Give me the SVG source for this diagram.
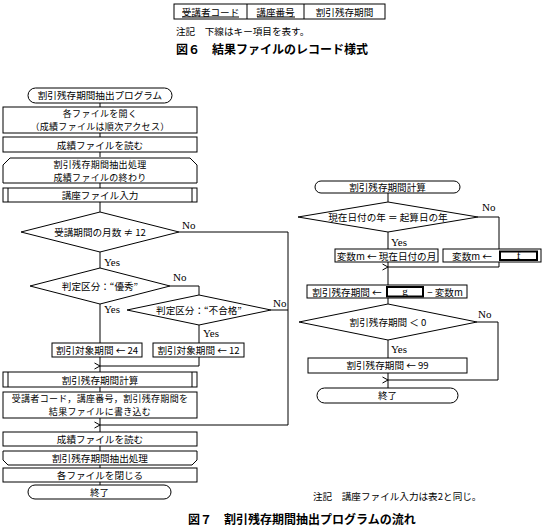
<svg xmlns="http://www.w3.org/2000/svg" width="552" height="527" viewBox="0 0 552 527">
<defs>
<style>
.s{fill:none;stroke:#000;stroke-width:1}
.b{fill:#fff;stroke:#000;stroke-width:1}
.k{fill:#fff;stroke:#000;stroke-width:2}
.t{font-family:"Noto Sans CJK JP","Noto Sans",sans-serif;font-size:9.6px;fill:#000;text-anchor:middle}
.t2{font-family:"Noto Sans CJK JP","Noto Sans",sans-serif;font-size:9px;fill:#000;text-anchor:middle;letter-spacing:0.3px}
.y{font-family:"Liberation Serif",serif;font-size:11px;fill:#000}
.h{font-family:"Noto Sans CJK JP","Noto Sans",sans-serif;font-size:12px;font-weight:bold;fill:#000}
</style>
<marker id="ah" markerWidth="8" markerHeight="8" refX="0.5" refY="4" orient="auto" markerUnits="userSpaceOnUse">
<polyline points="6,1 0.5,4 6,7" fill="none" stroke="#000" stroke-width="1"/>
</marker>
</defs>
<rect width="552" height="527" fill="#fff"/>

<g id="fig6">
<rect class="b" x="174" y="4" width="211" height="15"/>
<line class="s" x1="247" y1="4" x2="247" y2="19"/>
<line class="s" x1="304" y1="4" x2="304" y2="19"/>
<text class="t" x="210.5" y="15.5">受講者コード</text>
<line class="s" x1="182" y1="17" x2="239" y2="17"/>
<text class="t" x="275.5" y="15.5">講座番号</text>
<line class="s" x1="257" y1="17" x2="295" y2="17"/>
<text class="t" x="344.5" y="15.5">割引残存期間</text>
<text class="t" x="176" y="35" style="text-anchor:start">注記　下線はキー項目を表す。</text>
<text class="h" x="176" y="54">図６　結果ファイルのレコード様式</text>
</g>

<g id="connectors">
<line class="s" x1="100" y1="103" x2="100" y2="107"/>
<line class="s" x1="100" y1="133" x2="100" y2="137"/>
<line class="s" x1="100" y1="152" x2="100" y2="157"/>
<line class="s" x1="100" y1="183" x2="100" y2="188"/>
<line class="s" x1="100" y1="202" x2="100" y2="212"/>
<line class="s" x1="100" y1="252" x2="100" y2="268"/>
<line class="s" x1="100" y1="304" x2="100" y2="343"/>
<polyline class="s" points="170,286 199,286 199,295"/>
<line class="s" x1="199" y1="325" x2="199" y2="343"/>
<polyline class="s" points="179,232 288,232 288,425 100,425" marker-end="url(#ah)"/>
<line class="s" x1="271" y1="310" x2="288" y2="310"/>
<polyline class="s" points="199,357 199,366 100,366" marker-end="url(#ah)"/>
<line class="s" x1="100" y1="357" x2="100" y2="372"/>
<line class="s" x1="100" y1="387" x2="100" y2="392"/>
<line class="s" x1="100" y1="418" x2="100" y2="432"/>
<line class="s" x1="100" y1="446" x2="100" y2="451"/>
<line class="s" x1="100" y1="465" x2="100" y2="468"/>
<line class="s" x1="100" y1="482" x2="100" y2="485"/>
<text class="y" x="182" y="229">No</text>
<text class="y" x="104" y="266">Yes</text>
<text class="y" x="173" y="281">No</text>
<text class="y" x="104" y="313">Yes</text>
<text class="y" x="273" y="307">No</text>
<text class="y" x="203" y="337">Yes</text>

<line class="s" x1="388" y1="193" x2="388" y2="202"/>
<line class="s" x1="388" y1="232" x2="388" y2="249"/>
<polyline class="s" points="478,217 499,217 499,249"/>
<polyline class="s" points="499,262 499,267 388,267" marker-end="url(#ah)"/>
<line class="s" x1="388" y1="262" x2="388" y2="285"/>
<line class="s" x1="388" y1="298" x2="388" y2="304"/>
<line class="s" x1="388" y1="340" x2="388" y2="358"/>
<polyline class="s" points="477,322 498,322 498,380 388,380" marker-end="url(#ah)"/>
<line class="s" x1="388" y1="373" x2="388" y2="388"/>
<text class="y" x="482" y="211">No</text>
<text class="y" x="391" y="246">Yes</text>
<text class="y" x="478" y="318">No</text>
<text class="y" x="391" y="353">Yes</text>
</g>

<g id="n_start">
<rect class="b" x="28" y="88" width="144" height="15" rx="7.5"/>
<text class="t" x="100" y="99">割引残存期間抽出プログラム</text>
</g>
<g id="n_open">
<rect class="b" x="3" y="107" width="194" height="26"/>
<text class="t2" x="100" y="117">各ファイルを開く</text>
<text class="t2" x="100" y="130">（成績ファイルは順次アクセス）</text>
</g>
<g id="n_read1">
<rect class="b" x="3" y="137" width="194" height="15"/>
<text class="t" x="100" y="148.5">成績ファイルを読む</text>
</g>
<g id="n_loopstart">
<path class="b" d="M3,183 V165 L10,158 H190 L197,165 V183 Z"/>
<text class="t2" x="100" y="168">割引残存期間抽出処理</text>
<text class="t2" x="100" y="181">成績ファイルの終わり</text>
</g>
<g id="n_course">
<rect class="b" x="3" y="188" width="194" height="14"/>
<line class="s" x1="8" y1="188" x2="8" y2="202"/>
<line class="s" x1="192" y1="188" x2="192" y2="202"/>
<text class="t" x="100" y="199">講座ファイル入力</text>
</g>
<g id="n_d1">
<polygon class="b" points="100,212 179,232 100,252 21,232"/>
<text class="t" x="100" y="235.5">受講期間の月数 ≠ 12</text>
</g>
<g id="n_d2">
<polygon class="b" points="100,268 170,286 100,304 30,286"/>
<text class="t" x="100" y="289.5">判定区分：“優秀”</text>
</g>
<g id="n_d3">
<polygon class="b" points="199,295 271,310 199,325 127,310"/>
<text class="t" x="199" y="313.5">判定区分：“不合格”</text>
</g>
<g id="n_24">
<rect class="b" x="52" y="343" width="90" height="14"/>
<text class="t" x="97" y="354">割引対象期間 ← 24</text>
</g>
<g id="n_12">
<rect class="b" x="153" y="343" width="91" height="14"/>
<text class="t" x="198.5" y="354">割引対象期間 ← 12</text>
</g>
<g id="n_calc">
<rect class="b" x="3" y="372" width="194" height="15"/>
<line class="s" x1="8" y1="372" x2="8" y2="387"/>
<line class="s" x1="192" y1="372" x2="192" y2="387"/>
<text class="t" x="100" y="383.5">割引残存期間計算</text>
</g>
<g id="n_write">
<rect class="b" x="3" y="392" width="194" height="26"/>
<text class="t2" x="100" y="402">受講者コード，講座番号，割引残存期間を</text>
<text class="t2" x="100" y="415">結果ファイルに書き込む</text>
</g>
<g id="n_read2">
<rect class="b" x="3" y="432" width="194" height="14"/>
<text class="t" x="100" y="443">成績ファイルを読む</text>
</g>
<g id="n_loopend">
<path class="b" d="M3,451 H197 V460 L192,465 H8 L3,460 Z"/>
<text class="t" x="100" y="462">割引残存期間抽出処理</text>
</g>
<g id="n_close">
<rect class="b" x="3" y="468" width="194" height="14"/>
<text class="t" x="100" y="479">各ファイルを閉じる</text>
</g>
<g id="n_end">
<rect class="b" x="28" y="485" width="143" height="14" rx="7"/>
<text class="t" x="99.5" y="496">終了</text>
</g>

<g id="r_start">
<rect class="b" x="315" y="181" width="145" height="12" rx="6"/>
<text class="t" x="387.5" y="191">割引残存期間計算</text>
</g>
<g id="r_d1">
<polygon class="b" points="388,202 478,217 388,232 298,217"/>
<text class="t" x="388" y="220.5">現在日付の年 ＝ 起算日の年</text>
</g>
<g id="r_a">
<rect class="b" x="335" y="249" width="103" height="13"/>
<text class="t" x="386.5" y="259.5">変数m ← 現在日付の月</text>
</g>
<g id="r_b">
<rect class="b" x="443" y="249" width="98" height="13"/>
<text class="t" x="472" y="259.5">変数m ←</text>
<rect class="k" x="500" y="251.5" width="37" height="8.5"/>
<text class="y" x="518.5" y="259" text-anchor="middle">f</text>
</g>
<g id="r_c">
<rect class="b" x="307" y="285" width="160" height="13"/>
<text class="t" x="347" y="295.5">割引残存期間 ←</text>
<rect class="k" x="387" y="287" width="36" height="9.5"/>
<text class="y" x="405" y="295" text-anchor="middle">g</text>
<text class="t" x="445" y="295.5">− 変数m</text>
</g>
<g id="r_d2">
<polygon class="b" points="388,304 477,322 388,340 299,322"/>
<text class="t" x="388" y="325.5">割引残存期間 ＜ 0</text>
</g>
<g id="r_d">
<rect class="b" x="308" y="358" width="159" height="15"/>
<text class="t" x="387.5" y="369">割引残存期間 ← 99</text>
</g>
<g id="r_end">
<rect class="b" x="317" y="388" width="141" height="15" rx="7.5"/>
<text class="t" x="387.5" y="399">終了</text>
</g>

<g id="notes">
<text class="t" x="313" y="500" style="text-anchor:start">注記　講座ファイル入力は表2と同じ。</text>
<text class="h" x="188" y="524">図７　割引残存期間抽出プログラムの流れ</text>
</g>
</svg>
